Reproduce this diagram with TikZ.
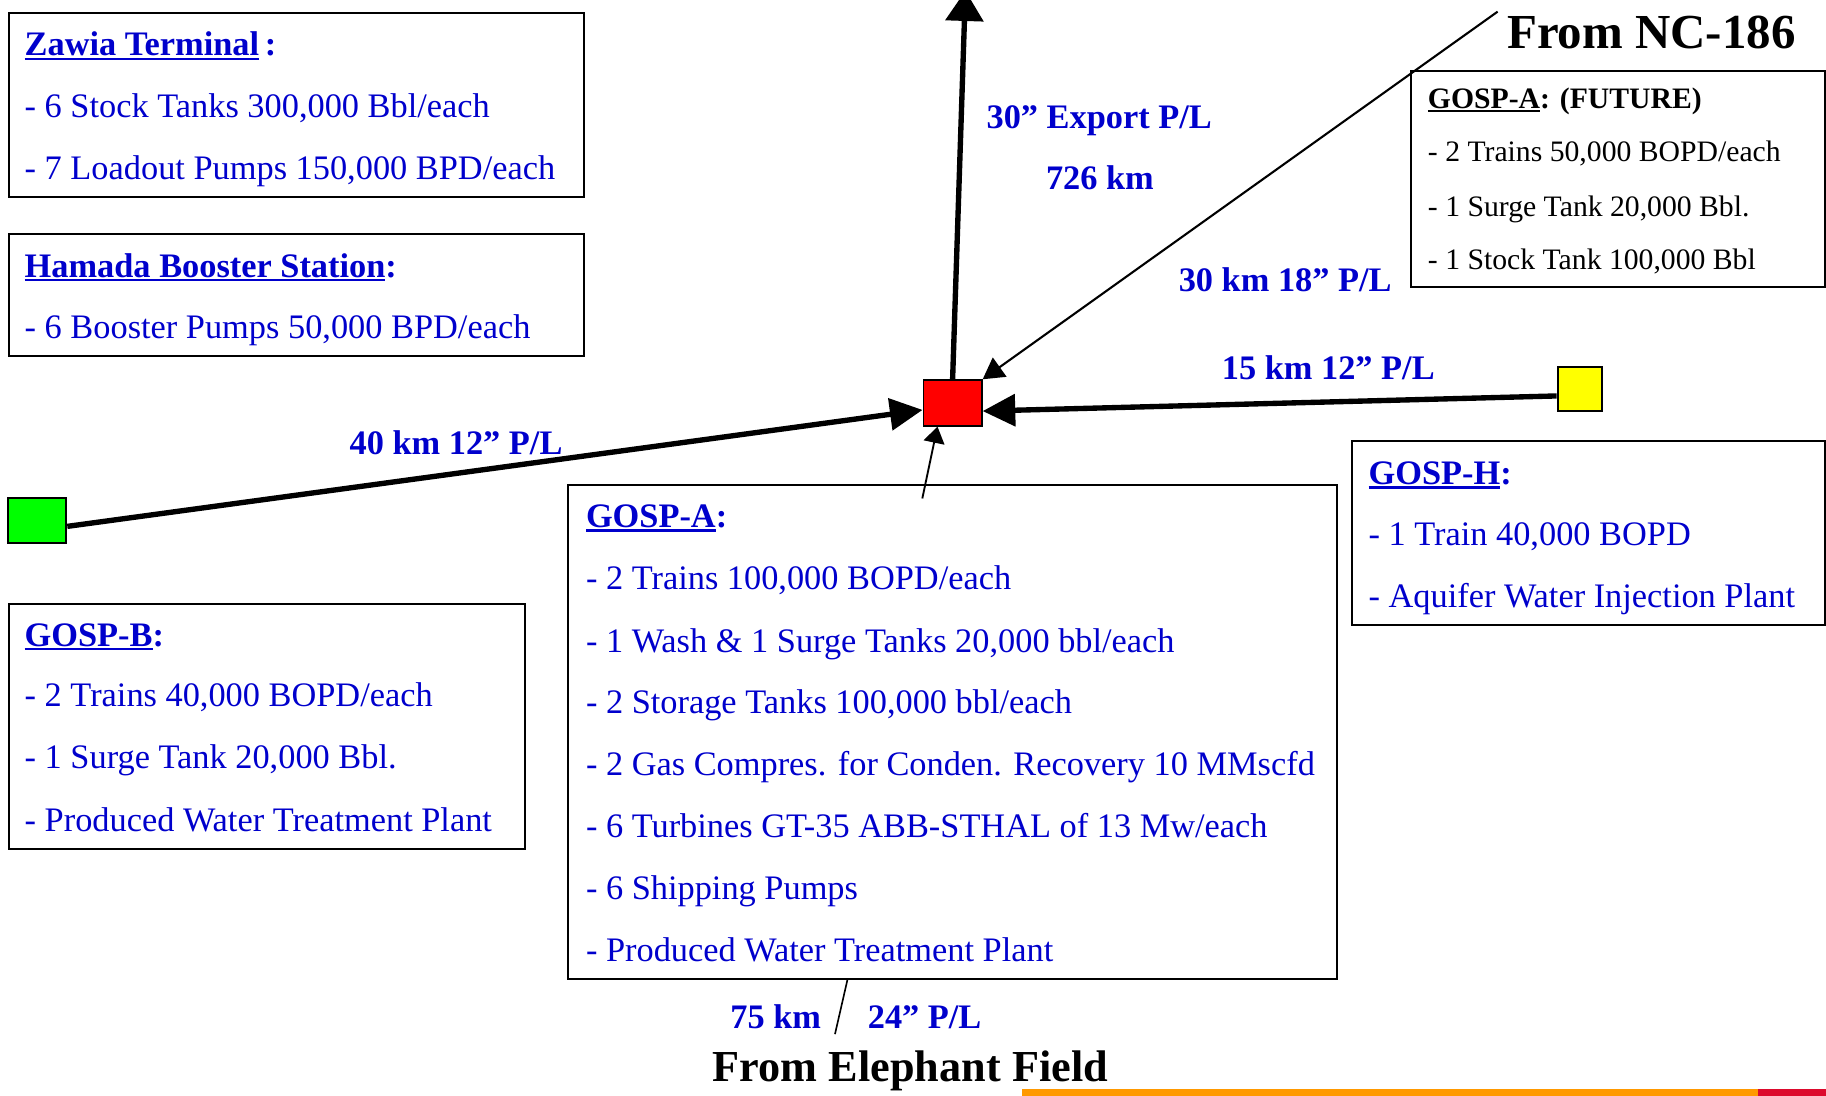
\documentclass[tikz,border=0pt]{standalone}
\usepackage{fontspec}
\setmainfont{Liberation Serif}
\usetikzlibrary{arrows.meta}
\definecolor{txtblue}{RGB}{0,0,204}
\definecolor{sqgreen}{RGB}{0,255,0}
\definecolor{sqyellow}{RGB}{255,255,0}
\definecolor{sqred}{RGB}{255,0,0}
\definecolor{barorange}{RGB}{255,153,0}
\definecolor{barred}{RGB}{220,10,45}
\newcommand{\ulin}[1]{\setbox0\hbox{#1}\rlap{\rule[-3.5pt]{\wd0}{2pt}}\box0}
\begin{document}
\begin{tikzpicture}[x=1pt,y=-1pt,
  infobox/.style={draw, line width=1.6pt, anchor=north west, inner sep=0pt},
  sq/.style={draw, line width=1.6pt, inner sep=0pt},
  bodyline/.style={anchor=base west, inner sep=0pt, text=txtblue, font=\fontsize{29.5}{34}\selectfont},
  titleline/.style={anchor=base west, inner sep=0pt, text=txtblue, font=\fontsize{29.5}{34}\selectfont\bfseries},
  smallline/.style={anchor=base west, inner sep=0pt, text=black, font=\fontsize{25.5}{30}\selectfont},
  smalltitle/.style={anchor=base west, inner sep=0pt, text=black, font=\fontsize{25.5}{30}\selectfont\bfseries},
  plabel/.style={anchor=base west, inner sep=0pt, text=txtblue, font=\fontsize{29.5}{34}\selectfont\bfseries},
  pipe/.style={line width=4.6pt, -{Triangle[length=28pt,width=27pt]}},
  exportpipe/.style={line width=4.6pt, -{Triangle[length=26pt,width=32pt]}},
  thinpipe/.style={line width=1.8pt, -{Triangle[length=18pt,width=20pt]}},
  smallarrow/.style={line width=1.6pt, -{Triangle[length=14pt,width=18pt]}}
]
\useasboundingbox (0,0) rectangle (1568,941);

% ---------- boxes ----------
\node[infobox, minimum width=494pt, minimum height=158pt] (zawia) at (7,10) {};
\node[titleline] (zawiaT) at (21,48) {\ulin{Zawia Terminal}\,:};
\node[bodyline] (zawia1) at (21,101) {- 6 Stock Tanks 300,000 Bbl/each};
\node[bodyline] (zawia2) at (21,154) {- 7 Loadout Pumps 150,000 BPD/each};

\node[infobox, minimum width=494pt, minimum height=105pt] (hamada) at (7,200) {};
\node[titleline] (hamadaT) at (21,238) {\ulin{Hamada Booster Station}:};
\node[bodyline] (hamada1) at (21,291) {- 6 Booster Pumps 50,000 BPD/each};

\node[infobox, minimum width=443pt, minimum height=210pt] (gospB) at (7,518) {};
\node[titleline] (gospBT) at (21,555) {\ulin{GOSP-B}:};
\node[bodyline] (gospB1) at (21,607) {- 2 Trains 40,000 BOPD/each};
\node[bodyline] (gospB2) at (21,660) {- 1 Surge Tank 20,000 Bbl.};
\node[bodyline] (gospB3) at (21,714) {- Produced Water Treatment Plant};

\node[infobox, minimum width=660pt, minimum height=424pt] (gospA) at (487,416) {};
\node[titleline] (gospAT) at (503,453) {\ulin{GOSP-A}:};
\node[bodyline] (gospA1) at (503,506) {- 2 Trains 100,000 BOPD/each};
\node[bodyline] (gospA2) at (503,560) {- 1 Wash \& 1 Surge Tanks 20,000 bbl/each};
\node[bodyline] (gospA3) at (503,613) {- 2 Storage Tanks 100,000 bbl/each};
\node[bodyline] (gospA4) at (503,666) {- 2 Gas Compres. for Conden. Recovery 10 MMscfd};
\node[bodyline] (gospA5) at (503,719) {- 6 Turbines GT-35 ABB-STHAL of 13 Mw/each};
\node[bodyline] (gospA6) at (503,772) {- 6 Shipping Pumps};
\node[bodyline] (gospA7) at (503,826) {- Produced Water Treatment Plant};

\node[infobox, minimum width=406pt, minimum height=158pt] (gospH) at (1160,378) {};
\node[titleline] (gospHT) at (1175,416) {\ulin{GOSP-H}:};
\node[bodyline] (gospH1) at (1175,468) {- 1 Train 40,000 BOPD};
\node[bodyline] (gospH2) at (1175,522) {- Aquifer Water Injection Plant};

\node[infobox, minimum width=355pt, minimum height=186pt] (future) at (1211,60) {};
\node[smalltitle] (futureT) at (1226,93) {\ulin{GOSP-A}: (FUTURE)};
\node[smallline] (future1) at (1226,139) {- 2 Trains 50,000 BOPD/each};
\node[smallline] (future2) at (1226,186) {- 1 Surge Tank 20,000 Bbl.};
\node[smallline] (future3) at (1226,231) {- 1 Stock Tank 100,000 Bbl};

% ---------- stations ----------
\node[sq, fill=sqred, minimum width=50pt, minimum height=39pt] (hub) at (818,346) {};
\node[sq, fill=sqgreen, minimum width=50pt, minimum height=38pt] (green) at (32,447) {};
\node[sq, fill=sqyellow, minimum width=38pt, minimum height=38pt] (yellow) at (1356.5,334) {};

\coordinate (exptop) at (829,-8);
\coordinate (nctop) at (1286,10);
\coordinate (gaIn) at (792,428);
\coordinate (elTop) at (728,840);
\coordinate (elBot) at (717,888);

% ---------- pipelines ----------
\draw[exportpipe] (hub.north) -- (exptop);
\draw[pipe] ([yshift=-5pt]green.east) -- ([yshift=-6pt]hub.west);
\draw[pipe] ([yshift=-6pt]yellow.west) -- ([yshift=-7pt]hub.east);
\draw[thinpipe] (nctop) -- (hub.north east);
\draw[smallarrow] (gaIn) -- ([xshift=-13pt]hub.south);
\draw[line width=1.4pt] (elTop) -- (elBot);

% ---------- labels ----------
\node[plabel] (lexp) at (847,110) {30” Export P/L};
\node[plabel] (lexpkm) at (898,163) {726 km};
\node[plabel] (lnc) at (1012,250) {30 km 18” P/L};
\node[plabel] (lh) at (1049,326) {15 km 12” P/L};
\node[plabel] (lb) at (300,390) {40 km 12” P/L};
\node[plabel] (lel1) at (627,883) {75 km};
\node[plabel] (lel2) at (745,883) {24” P/L};
\node[anchor=base west, inner sep=0pt, font=\fontsize{42}{48}\selectfont\bfseries] (fromNC) at (1294,42) {From NC-186};
\node[anchor=base west, inner sep=0pt, font=\fontsize{38}{44}\selectfont\bfseries] (fromEl) at (612,929) {From Elephant Field};

% ---------- bottom bar ----------
\fill[barorange] (878,935) rectangle (1510,941);
\fill[barred] (1510,935) rectangle (1568,941);
\end{tikzpicture}
\end{document}
